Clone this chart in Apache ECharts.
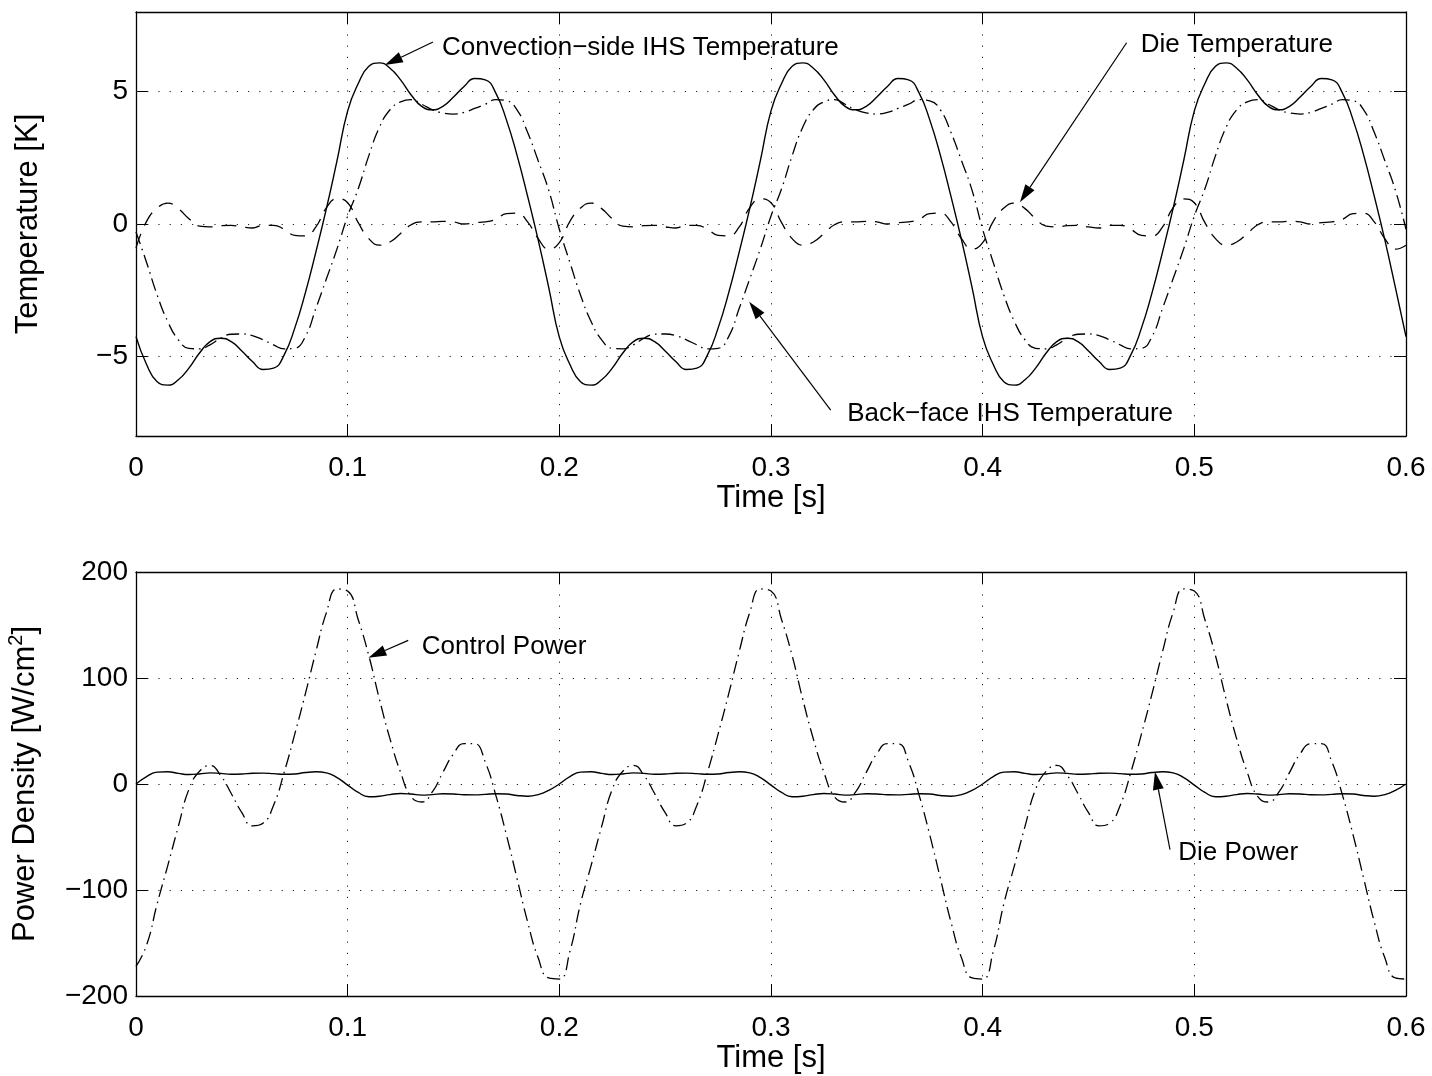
<!DOCTYPE html>
<html><head><meta charset="utf-8">
<script src="https://cdn.jsdelivr.net/npm/echarts@6/dist/echarts.min.js"></script>
<style>html,body{margin:0;padding:0;background:#fff}#chart{width:1432px;height:1076px}</style>
</head><body><div id="chart"></div>
<script>
// ---- data ----
const time = [
0,0.005,0.01,0.015,0.02,0.025,0.03,0.035,0.04,0.045,0.05,0.055,0.06,0.065,0.07,0.075,0.08,0.085,0.09,0.095,
0.1,0.105,0.11,0.115,0.12,0.125,0.13,0.135,0.14,0.145,0.15,0.155,0.16,0.165,0.17,0.175,0.18,0.185,0.19,0.195,
0.2,0.205,0.21,0.215,0.22,0.225,0.23,0.235,0.24,0.245,0.25,0.255,0.26,0.265,0.27,0.275,0.28,0.285,0.29,0.295,
0.3,0.305,0.31,0.315,0.32,0.325,0.33,0.335,0.34,0.345,0.35,0.355,0.36,0.365,0.37,0.375,0.38,0.385,0.39,0.395,
0.4,0.405,0.41,0.415,0.42,0.425,0.43,0.435,0.44,0.445,0.45,0.455,0.46,0.465,0.47,0.475,0.48,0.485,0.49,0.495,
0.5,0.505,0.51,0.515,0.52,0.525,0.53,0.535,0.54,0.545,0.55,0.555,0.56,0.565,0.57,0.575,0.58,0.585,0.59,0.595,
0.6];

const convTemp = [
-4.25,-5.3,-5.95,-6.08,-5.88,-5.44,-4.87,-4.44,-4.31,-4.44,-4.79,-5.19,-5.49,-5.44,-4.94,-3.93,-2.6,-1.05,0.6,2.4,
4.27,5.3,5.95,6.08,5.88,5.44,4.87,4.44,4.31,4.44,4.79,5.19,5.49,5.44,4.94,3.93,2.6,1.05,-0.6,-2.4,
-4.27,-5.3,-5.95,-6.08,-5.88,-5.44,-4.87,-4.44,-4.31,-4.44,-4.79,-5.19,-5.49,-5.44,-4.94,-3.93,-2.6,-1.05,0.6,2.4,
4.27,5.3,5.95,6.08,5.88,5.44,4.87,4.44,4.31,4.44,4.79,5.19,5.49,5.44,4.94,3.93,2.6,1.05,-0.6,-2.4,
-4.27,-5.3,-5.95,-6.08,-5.88,-5.44,-4.87,-4.44,-4.31,-4.44,-4.79,-5.19,-5.49,-5.44,-4.94,-3.93,-2.6,-1.05,0.6,2.4,
4.27,5.3,5.95,6.08,5.88,5.44,4.87,4.44,4.31,4.44,4.79,5.19,5.49,5.44,4.94,3.93,2.6,1.05,-0.6,-2.4,
-4.25];

const backTemp = [
-0.3,-1.45,-2.68,-3.68,-4.37,-4.69,-4.71,-4.56,-4.31,-4.16,-4.15,-4.21,-4.37,-4.56,-4.71,-4.69,-4.25,-3.18,-2.06,-0.93,
0.3,1.33,2.58,3.65,4.31,4.61,4.69,4.52,4.31,4.19,4.15,4.21,4.36,4.52,4.69,4.65,4.31,3.46,2.39,1.27,
-0.2,-1.45,-2.68,-3.68,-4.37,-4.69,-4.71,-4.56,-4.31,-4.16,-4.15,-4.21,-4.37,-4.56,-4.71,-4.69,-4.25,-3.18,-2.06,-0.93,
0.3,1.33,2.58,3.65,4.31,4.61,4.69,4.52,4.31,4.19,4.15,4.21,4.36,4.52,4.69,4.65,4.31,3.46,2.39,1.27,
-0.2,-1.45,-2.68,-3.68,-4.37,-4.69,-4.71,-4.56,-4.31,-4.16,-4.15,-4.21,-4.37,-4.56,-4.71,-4.69,-4.25,-3.18,-2.06,-0.93,
0.3,1.33,2.58,3.65,4.31,4.61,4.69,4.52,4.31,4.19,4.15,4.21,4.36,4.52,4.69,4.65,4.31,3.46,2.39,1.27,
-0.2];

const dieTemp = [
-0.9,0.1,0.6,0.79,0.58,0.2,-0.08,-0.11,-0.06,-0.05,-0.11,-0.15,-0.05,-0.05,-0.2,-0.43,-0.45,-0.11,0.62,0.95,
0.8,0.05,-0.55,-0.8,-0.68,-0.36,-0.03,0.08,0.08,0.1,0.08,0.0,0.05,0.08,0.18,0.39,0.41,0.08,-0.55,-0.95,
-0.7,0.1,0.6,0.79,0.58,0.2,-0.08,-0.11,-0.06,-0.05,-0.11,-0.15,-0.05,-0.05,-0.2,-0.43,-0.45,-0.11,0.62,0.95,
0.8,0.05,-0.55,-0.8,-0.68,-0.36,-0.03,0.08,0.08,0.1,0.08,0.0,0.05,0.08,0.18,0.39,0.41,0.08,-0.55,-0.95,
-0.7,0.1,0.6,0.79,0.58,0.2,-0.08,-0.11,-0.06,-0.05,-0.11,-0.15,-0.05,-0.05,-0.2,-0.43,-0.45,-0.11,0.62,0.95,
0.8,0.05,-0.55,-0.8,-0.68,-0.36,-0.03,0.08,0.08,0.1,0.08,0.0,0.05,0.08,0.18,0.39,0.41,0.08,-0.55,-0.95,
-0.8];

const ctrlPower = [
-172,-152,-113,-77,-40,-5,12,17.5,8,-9,-27,-39.5,-37,-20,11,47,85,125,162,184,
182,155,121,80,42.6,11,-12,-17,-7.5,11,28.5,38,38,20.7,-10.7,-48,-89,-130,-164,-183,
-184,-158,-113,-77,-40,-5,12,17.5,8,-9,-27,-39.5,-37,-20,11,47,85,125,162,184,
182,155,121,80,42.6,11,-12,-17,-7.5,11,28.5,38,38,20.7,-10.7,-48,-89,-130,-164,-183,
-184,-158,-113,-77,-40,-5,12,17.5,8,-9,-27,-39.5,-37,-20,11,47,85,125,162,184,
182,155,121,80,42.6,11,-12,-17,-7.5,11,28.5,38,38,20.7,-10.7,-48,-89,-130,-164,-183,
-184];

const diePower = [
0,7,11.2,11.5,10,9,9.5,10.5,10,9.2,9.4,10.2,10.3,9.8,9.2,9.5,10.8,11.5,10.5,6,
-1,-8,-12,-11.5,-10,-9,-9.5,-10.5,-10,-9.2,-9.4,-10.2,-10.3,-9.8,-9.2,-9.5,-10.8,-11.5,-10,-6,
0,7,11.2,11.5,10,9,9.5,10.5,10,9.2,9.4,10.2,10.3,9.8,9.2,9.5,10.8,11.5,10.5,6,
-1,-8,-12,-11.5,-10,-9,-9.5,-10.5,-10,-9.2,-9.4,-10.2,-10.3,-9.8,-9.2,-9.5,-10.8,-11.5,-10,-6,
0,7,11.2,11.5,10,9,9.5,10.5,10,9.2,9.4,10.2,10.3,9.8,9.2,9.5,10.8,11.5,10.5,6,
-1,-8,-12,-11.5,-10,-9,-9.5,-10.5,-10,-9.2,-9.4,-10.2,-10.3,-9.8,-9.2,-9.5,-10.8,-11.5,-10,-6,
0];

const tempTicks = [-5, 0, 5];
const powerTicks = [-200, -100, 0, 100, 200];
const timeTicks = [0, 0.1, 0.2, 0.3, 0.4, 0.5, 0.6];

// annotations: text, label anchor, arrow tail, arrow tip (data coordinates)
const notes = [
  {grid: 0, text: 'Convection\u2212side IHS Temperature', at: [0.1446, 6.66], from: [0.1403, 6.87], to: [0.1176, 6.0]},
  {grid: 0, text: 'Die Temperature', at: [0.4747, 6.75], from: [0.468, 6.84], to: [0.4176, 0.82]},
  {grid: 0, text: 'Back\u2212face IHS Temperature', at: [0.336, -7.17], from: [0.3282, -7.02], to: [0.2897, -2.93]},
  {grid: 1, text: 'Control Power', at: [0.135, 129.8], from: [0.1286, 135.5], to: [0.1098, 119.2]},
  {grid: 1, text: 'Die Power', at: [0.4924, -65], from: [0.4885, -62], to: [0.4814, 11.6]}
];

// ---- chart ----
const FONT = '"Liberation Sans", Arial, Helvetica, sans-serif';
const fmt = v => {
  let s = Math.abs(v) < 1e-9 ? '0' : String(+(+v).toFixed(3));
  return s.replace('-', '\u2212');
};
const gridDot = {color: '#222', type: [1.2, 10], width: 1};
const pair = arr => time.map((t, i) => [t, arr[i]]);
const NAME_SIZE = 31;

function xAxes(g) {
  return [
    {type: 'value', gridIndex: g, position: 'bottom', min: 0, max: 0.6, interval: 0.1,
     axisLine: {show: true, onZero: false, lineStyle: {color: '#000', width: 1.3}},
     axisTick: {show: true, inside: true, length: 12, lineStyle: {color: '#000', width: 1}},
     axisLabel: {show: true, margin: 18, fontSize: 28, color: '#000', fontFamily: FONT, formatter: fmt,
                 showMinLabel: true, showMaxLabel: true},
     splitLine: {show: true, lineStyle: gridDot},
     name: 'Time [s]', nameLocation: 'middle', nameGap: 46,
     nameTextStyle: {fontSize: NAME_SIZE, color: '#000', fontFamily: FONT}},
    {type: 'value', gridIndex: g, position: 'top', min: 0, max: 0.6, interval: 0.1,
     axisLine: {show: true, onZero: false, lineStyle: {color: '#000', width: 1.3}},
     axisTick: {show: true, inside: true, length: 12, lineStyle: {color: '#000', width: 1}},
     axisLabel: {show: false}, splitLine: {show: false}}
  ];
}

const option = {
  animation: false,
  backgroundColor: '#fff',
  grid: [
    {left: 136, right: 26, top: 12, height: 424, containLabel: false, outerBoundsMode: 'none'},
    {left: 136, right: 26, top: 572, height: 424, containLabel: false, outerBoundsMode: 'none'}
  ],
  xAxis: [...xAxes(0), ...xAxes(1)],
  yAxis: [
    {type: 'value', gridIndex: 0, position: 'left', min: -8, max: 8,
     axisLine: {show: true, onZero: false, lineStyle: {color: '#000', width: 1.3}},
     axisTick: {show: true, inside: true, length: 12, customValues: tempTicks, lineStyle: {color: '#000'}},
     axisLabel: {show: true, margin: 8, fontSize: 28, color: '#000', fontFamily: FONT, formatter: fmt,
                 customValues: tempTicks},
     splitLine: {show: false},
     name: 'Temperature [K]', nameLocation: 'middle', nameGap: 92,
     nameTextStyle: {fontSize: NAME_SIZE, color: '#000', fontFamily: FONT}},
    {type: 'value', gridIndex: 0, position: 'right', min: -8, max: 8,
     axisLine: {show: true, onZero: false, lineStyle: {color: '#000', width: 1.3}},
     axisTick: {show: true, inside: true, length: 12, customValues: tempTicks, lineStyle: {color: '#000'}},
     axisLabel: {show: false}, splitLine: {show: false}},
    {type: 'value', gridIndex: 1, position: 'left', min: -200, max: 200, interval: 100,
     axisLine: {show: true, onZero: false, lineStyle: {color: '#000', width: 1.3}},
     axisTick: {show: true, inside: true, length: 12, lineStyle: {color: '#000'}},
     axisLabel: {show: true, margin: 8, fontSize: 28, color: '#000', fontFamily: FONT, formatter: fmt},
     splitLine: {show: true, lineStyle: gridDot},
     name: '{a|Power Density [W/cm}{s|2}{a|]}', nameLocation: 'middle', nameGap: 92,
     nameTextStyle: {fontSize: NAME_SIZE, color: '#000', fontFamily: FONT,
       rich: {a: {fontSize: NAME_SIZE, fontFamily: FONT, color: '#000', lineHeight: 38},
              s: {fontSize: 20, fontFamily: FONT, color: '#000', lineHeight: 20, verticalAlign: 'top'}}}},
    {type: 'value', gridIndex: 1, position: 'right', min: -200, max: 200, interval: 100,
     axisLine: {show: true, onZero: false, lineStyle: {color: '#000', width: 1.3}},
     axisTick: {show: true, inside: true, length: 12, lineStyle: {color: '#000'}},
     axisLabel: {show: false}, splitLine: {show: false}}
  ],
  series: [
    {name: 'Convection-side IHS Temperature', type: 'line', xAxisIndex: 0, yAxisIndex: 0,
     data: pair(convTemp), showSymbol: false, smooth: 0.5, z: 3,
     lineStyle: {color: '#000', width: 1.4, type: 'solid'},
     markLine: {silent: true, symbol: 'none', label: {show: false}, animation: false,
       lineStyle: gridDot, emphasis: {disabled: true},
       data: tempTicks.map(v => ({yAxis: v}))}},
    {name: 'Back-face IHS Temperature', type: 'line', xAxisIndex: 0, yAxisIndex: 0,
     data: pair(backTemp), showSymbol: false, smooth: 0.5, z: 3,
     lineStyle: {color: '#000', width: 1.3, type: [13, 5, 1.5, 5]}},
    {name: 'Die Temperature', type: 'line', xAxisIndex: 0, yAxisIndex: 0,
     data: pair(dieTemp), showSymbol: false, smooth: 0.5, z: 3,
     lineStyle: {color: '#000', width: 1.3, type: [15, 9]}},
    {name: 'Control Power', type: 'line', xAxisIndex: 2, yAxisIndex: 2,
     data: pair(ctrlPower), showSymbol: false, smooth: 0.5, z: 3,
     lineStyle: {color: '#000', width: 1.3, type: [13, 5, 1.5, 5]}},
    {name: 'Die Power', type: 'line', xAxisIndex: 2, yAxisIndex: 2,
     data: pair(diePower), showSymbol: false, smooth: 0.5, z: 3,
     lineStyle: {color: '#000', width: 1.4, type: 'solid'}}
  ]
};

const chart = echarts.init(document.getElementById('chart'), null, {renderer: 'canvas'});
chart.setOption(option);

// annotations placed from data coordinates
const elements = [];
notes.forEach(n => {
  const ref = {xAxisIndex: n.grid * 2, yAxisIndex: n.grid * 2};
  const pT = chart.convertToPixel(ref, n.at);
  const p0 = chart.convertToPixel(ref, n.from);
  const p1 = chart.convertToPixel(ref, n.to);
  const dx = p1[0] - p0[0], dy = p1[1] - p0[1];
  const L = Math.sqrt(dx * dx + dy * dy);
  const ux = dx / L, uy = dy / L, nx = -uy, ny = ux;
  const head = 18, hw = 5.5;
  const bx = p1[0] - ux * head, by = p1[1] - uy * head;
  elements.push({type: 'line', z: 10, silent: true,
    shape: {x1: p0[0], y1: p0[1], x2: bx, y2: by},
    style: {stroke: '#000', lineWidth: 1.2}});
  elements.push({type: 'polygon', z: 10, silent: true,
    shape: {points: [[p1[0], p1[1]], [bx + nx * hw, by + ny * hw], [bx - nx * hw, by - ny * hw]]},
    style: {fill: '#000'}});
  elements.push({type: 'text', z: 10, silent: true, x: pT[0], y: pT[1],
    style: {text: n.text, fill: '#000', font: '26px ' + FONT, textAlign: 'left', textVerticalAlign: 'middle'}});
});
chart.setOption({graphic: elements});
</script>
</body></html>
